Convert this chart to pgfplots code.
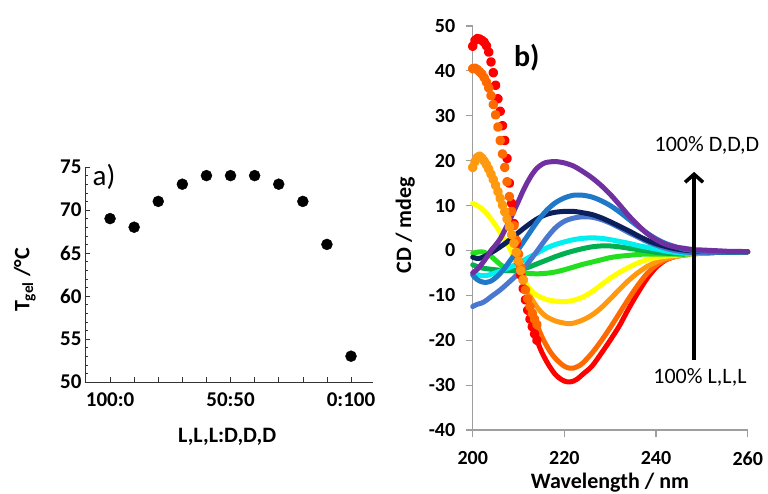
\documentclass[border=0pt]{standalone}
\usepackage{pgfplots}
\pgfplotsset{compat=1.18}
\usepackage{fontspec}
\setmainfont{Carlito}
\usetikzlibrary{arrows.meta}

\definecolor{cRed}{HTML}{FF0000}
\definecolor{cOrRed}{HTML}{FF6A00}
\definecolor{cOrange}{HTML}{FF9A10}
\definecolor{cYellow}{HTML}{FFFF00}
\definecolor{cLime}{HTML}{22E01E}
\definecolor{cGreen}{HTML}{00B050}
\definecolor{cCyan}{HTML}{00F0F0}
\definecolor{cLBlue}{HTML}{4A78D0}
\definecolor{cBlue}{HTML}{1F78C8}
\definecolor{cNavy}{HTML}{0A1F5C}
\definecolor{cPurple}{HTML}{7030A0}

\begin{document}
\begin{tikzpicture}[x=1pt,y=1pt]
\path[use as bounding box] (0,0) rectangle (768,493);

% ---------------- panel a ----------------
\begin{axis}[
  at={(85pt,111pt)}, anchor=south west,
  scale only axis, width=287.7pt, height=215pt,
  xmin=-1.04, xmax=10.9, ymin=50, ymax=75,
  axis lines=left,
  axis line style={-, black!80, line width=0.8pt},
  tick style={black!80, line width=0.6pt},
  tick align=inside,
  major tick length=5pt, minor tick length=3pt,
  xtick={0,...,10},
  xticklabels={100:0,,,,,50:50,,,,,0:100},
  ytick={50,55,...,75},
  yticklabels={50,55,60,65,70,75},
  minor y tick num=4,
  ticklabel style={font=\bfseries\fontsize{21}{21}\selectfont},
  xticklabel style={yshift=-7pt},
  xlabel={L,L,L:D,D,D},
  ylabel={T\textsubscript{gel} /°C},
  label style={font=\bfseries\fontsize{22}{22}\selectfont},
  xlabel style={at={(axis description cs:0.494,-0.256)}, anchor=center},
  ylabel style={at={(axis description cs:-0.209,0.474)}, anchor=center},
  clip=false,
]
\addplot[only marks, mark=*, mark size=5.5pt, black] coordinates {
(0,69) (1,68) (2,71) (3,73) (4,74) (5,74) (6,74) (7,73) (8,71) (9,66) (10,53)
};
\node[font=\fontsize{29}{29}\selectfont] at (axis cs:-0.25,73.9) {a)};
\end{axis}

% ---------------- panel b ----------------
\begin{axis}[
  at={(472.7pt,63pt)}, anchor=south west,
  scale only axis, width=275pt, height=404pt,
  xmin=200, xmax=260, ymin=-40, ymax=50,
  axis lines=left,
  axis line style={-, black!38, line width=1.1pt},
  tick style={black!38, line width=1.1pt},
  tick align=outside,
  major tick length=7pt,
  xtick={200,220,240,260},
  xticklabels={200,220,240,260},
  ytick={-40,-30,...,50},
  yticklabels={-40,-30,-20,-10,0,10,20,30,40,50},
  ticklabel style={font=\bfseries\fontsize{20}{20}\selectfont},
  xticklabel style={yshift=-11pt},
  yticklabel style={xshift=-7pt},
  xlabel={Wavelength / nm},
  ylabel={CD / mdeg},
  label style={font=\bfseries\fontsize{22}{22}\selectfont},
  xlabel style={at={(axis description cs:0.499,-0.131)}, anchor=center},
  ylabel style={at={(axis description cs:-0.245,0.507)}, anchor=center},
  clip=false,
  every axis plot/.append style={line width=5pt, line cap=round, line join=round},
]
% 100% L,L,L (red)
\addplot[cRed, only marks, mark=*, mark size=2.3pt] coordinates {
(200,45.5) (200.5,46.8) (201,47.2) (201.5,47.1) (202,46.8) (202.5,46.4) (203,45.6) (203.5,44.2)
(204,42) (204.5,39.6) (205,36.8) (205.5,33.8) (206,31) (206.5,27.8) (207,24.5) (207.5,20.5)
(208,15) (208.5,10.5) (209,6) (209.5,1.5) (210,-2.5) (210.5,-5.5) (211,-8.5) (211.5,-11)
(212,-13.3) (212.5,-15.3) (213,-17) (213.5,-18.6) (214,-20)
};
\addplot[cRed, smooth] coordinates {
(214,-20) (215,-22.5) (216,-24.5) (217,-26.2) (218,-27.6) (219,-28.5) (220,-29.1) (221,-29.3)
(222,-29.1) (223,-28.5) (224,-27.6) (226,-25.8) (228,-23) (230,-20) (232,-16.8) (234,-13)
(236,-9.5) (238,-6.3) (240,-3.8) (242,-2.2) (244,-1.4) (246,-1) (248,-0.8) (250,-0.6)
(252,-0.5) (254,-0.4) (256,-0.4) (258,-0.3) (260,-0.3)
};
% orange-red
\addplot[cOrRed, only marks, mark=*, mark size=2.3pt] coordinates {
(200,40.5) (200.5,40.6) (201,40.3) (201.5,39.8) (202,39.3) (202.5,38.5) (203,37.5) (203.5,36.2)
(204,34.5) (204.5,32.5) (205,30.2) (205.5,27.5) (206,24.5) (206.5,21.5) (207,18.5) (207.5,15.3)
(208,12) (208.5,8.7) (209,5.5) (209.5,2.3) (210,-0.8) (210.5,-3.8) (211,-6.5) (211.5,-8.8)
(212,-10.8) (212.5,-12.5) (213,-14) (213.5,-15.3) (214,-16.5)
};
\addplot[cOrRed, smooth] coordinates {
(214,-16.5) (215,-19) (216,-21) (217,-22.7) (218,-24) (219,-25) (220,-25.8) (221,-26.2)
(222,-26.2) (223,-25.8) (224,-25.1) (226,-22.9) (228,-20.2) (230,-17.2) (232,-14) (234,-10.8)
(236,-7.8) (238,-5.2) (240,-3.3) (242,-2.1) (244,-1.4) (246,-1) (248,-0.8) (250,-0.6)
(252,-0.5) (254,-0.4) (256,-0.4) (258,-0.3) (260,-0.3)
};
% orange
\addplot[cOrange, only marks, mark=*, mark size=2.3pt] coordinates {
(200,18.5) (200.5,19.8) (201,20.7) (201.5,21) (202,20.6) (202.5,19.9) (203,19.1) (203.5,18.1)
(204,17) (204.5,15.8) (205,14.5) (205.5,13.1) (206,11.6) (206.5,10.1) (207,8.6) (207.5,7)
(208,5.3) (208.5,3.5) (209,1.6) (209.5,-0.4) (210,-2.4) (210.5,-4.5) (211,-6.6)
};
\addplot[cOrange, smooth] coordinates {
(211,-6.6) (212,-9) (213,-11) (214,-12.6) (215,-13.8) (216,-14.7) (218,-15.7) (220,-16.2)
(221,-16.3) (222,-16.2) (224,-15.5) (226,-14.4) (228,-12.8) (230,-10.8) (232,-8.7) (234,-6.7)
(236,-5) (238,-3.6) (240,-2.6) (242,-1.8) (244,-1.4) (246,-1.1) (248,-0.8) (250,-0.6)
(254,-0.4) (260,-0.3)
};
% yellow
\addplot[cYellow, smooth] coordinates {
(200,10.5) (201,10) (202,9.3) (203,8.3) (204,7) (205,5.6) (206,4) (207,2.4) (208,0.6)
(209,-1.6) (210,-3.9) (211,-6.2) (212,-8) (213,-9.2) (214,-10) (216,-10.9) (218,-11.3)
(220,-11.4) (222,-11.1) (224,-10.4) (226,-9.2) (228,-7.7) (230,-6.2) (232,-4.9) (234,-3.8)
(236,-2.8) (238,-2.1) (240,-1.6) (242,-1.3) (244,-1.1) (246,-0.9) (248,-0.8) (250,-0.6)
(254,-0.4) (260,-0.3)
};
% lime
\addplot[cLime, smooth] coordinates {
(200,-0.6) (201,-0.4) (202,-0.3) (203,-0.6) (204,-1.3) (205,-2.2) (206,-3.1) (207,-3.8)
(208,-4.3) (210,-4.8) (212,-5.1) (214,-5.2) (216,-5.1) (218,-4.8) (220,-4.3) (222,-3.7)
(224,-3.1) (226,-2.6) (228,-2.1) (230,-1.6) (232,-1.3) (234,-1.1) (236,-0.9) (238,-0.8)
(240,-0.8) (242,-0.8) (244,-0.8) (246,-0.8) (248,-0.7) (250,-0.6) (254,-0.4) (260,-0.3)
};
% green
\addplot[cGreen, smooth] coordinates {
(200,-3.2) (201,-3.6) (202,-3.9) (204,-4.2) (206,-4.4) (208,-4.5) (210,-4.3) (212,-3.8)
(214,-3) (216,-2.2) (218,-1.4) (220,-0.7) (222,-0.1) (224,0.4) (226,0.8) (228,1) (230,1)
(232,0.8) (234,0.5) (236,0.2) (238,-0.1) (240,-0.4) (242,-0.6) (244,-0.7) (246,-0.8)
(248,-0.7) (250,-0.6) (254,-0.4) (260,-0.3)
};
% cyan
\addplot[cCyan, smooth] coordinates {
(200,-5) (201,-5.4) (202,-5.6) (203,-5.6) (204,-5.3) (206,-4.6) (208,-3.8) (210,-2.8)
(212,-1.7) (214,-0.6) (216,0.5) (218,1.3) (220,1.9) (222,2.4) (224,2.7) (226,2.8) (228,2.7)
(230,2.4) (232,2) (234,1.6) (236,1.1) (238,0.7) (240,0.3) (242,-0.1) (244,-0.4) (246,-0.6)
(248,-0.7) (250,-0.6) (254,-0.4) (260,-0.3)
};
% light blue
\addplot[cLBlue, smooth] coordinates {
(200,-12.5) (201,-12) (202,-11.7) (203,-11.1) (204,-10.3) (206,-8.8) (208,-7) (210,-5.1)
(212,-2.9) (214,-0.2) (216,2.6) (218,5) (220,6.5) (222,7.2) (224,7.5) (226,7.4) (228,6.9)
(230,6.1) (232,5.1) (234,4) (236,3) (238,2) (240,1.2) (242,0.5) (244,0) (246,-0.3)
(248,-0.5) (250,-0.5) (254,-0.4) (260,-0.3)
};
% navy
\addplot[cNavy, smooth] coordinates {
(200,-1.5) (201,-1.8) (202,-1.6) (203,-1.1) (204,-0.5) (205,0.1) (206,0.8) (207,1.5)
(208,2.3) (210,4) (212,5.6) (214,7) (216,8) (218,8.5) (220,8.7) (222,8.7) (224,8.4) (226,8)
(228,7.3) (230,6.4) (232,5.4) (234,4.4) (236,3.3) (238,2.3) (240,1.5) (242,0.9) (244,0.4)
(246,0.1) (248,-0.1) (250,-0.2) (254,-0.3) (260,-0.3)
};
% blue
\addplot[cBlue, smooth] coordinates {
(200,-5.5) (201,-6.5) (202,-7) (203,-7.1) (204,-6.8) (205,-6.1) (206,-5.1) (207,-3.9)
(208,-2.5) (209,-1.1) (210,0.3) (211,1.8) (212,3.3) (214,6.3) (216,8.8) (218,10.6) (220,11.7)
(222,12.3) (224,12.3) (226,11.9) (228,11.1) (230,10) (232,8.6) (234,7) (236,5.4) (238,3.9)
(240,2.6) (242,1.6) (244,0.9) (246,0.3) (248,0) (250,-0.2) (254,-0.3) (260,-0.3)
};
% 100% D,D,D (purple)
\addplot[cPurple, smooth] coordinates {
(200,-5) (201,-4.2) (202,-3) (203,-1.6) (204,0) (205,1.2) (206,2.6) (207,4.5) (208,6.6)
(209,8.8) (210,11) (211,13.3) (212,15.3) (213,17) (214,18.3) (215,19.1) (216,19.6) (218,19.8)
(220,19.5) (222,18.8) (224,17.6) (226,16.2) (228,14.5) (230,12.5) (232,10.2) (234,7.8)
(236,5.7) (238,3.8) (240,2.4) (242,1.4) (244,0.8) (246,0.5) (248,0.2) (250,0.1) (252,0)
(254,-0.1) (256,-0.2) (258,-0.2) (260,-0.3)
};
\draw[black, line width=3.5pt, -{Straight Barb[length=8pt,width=18pt,line width=3.5pt]}]
  (axis cs:248.3,-24.4) -- (axis cs:248.3,17.5);
\node[font=\fontsize{22}{22}\selectfont] at (axis cs:251.1,23.5) {100\% D,D,D};
\node[font=\fontsize{22}{22}\selectfont] at (axis cs:249.6,-28.2) {100\% L,L,L};
\node[font=\bfseries\fontsize{30}{30}\selectfont] at (axis cs:211.8,43) {b)};
\end{axis}
\end{tikzpicture}
\end{document}
